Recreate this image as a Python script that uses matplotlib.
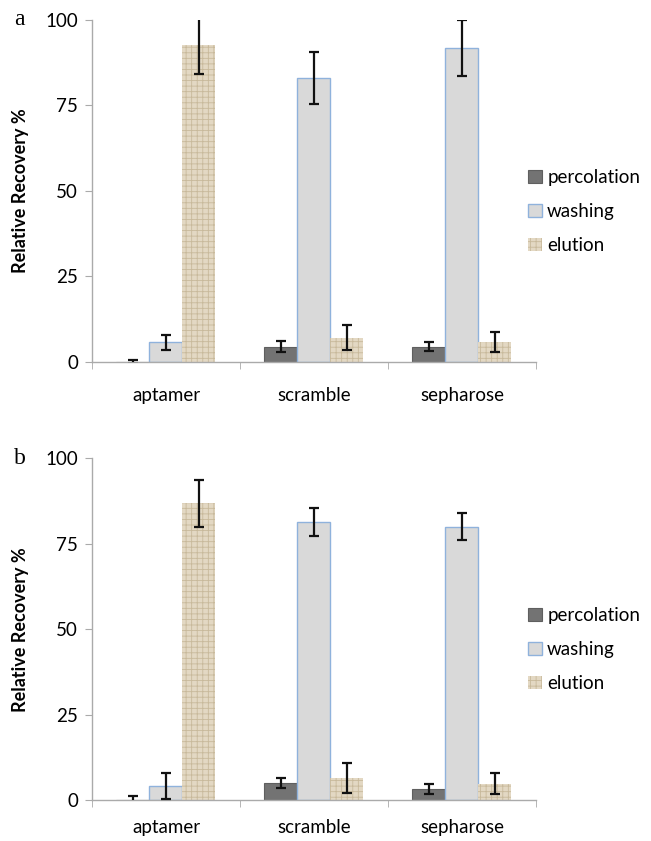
import numpy as np
import matplotlib
matplotlib.use('Agg')
import matplotlib.pyplot as plt

plt.rcParams['font.family'] = ['Lato', 'DejaVu Sans']
plt.rcParams['hatch.linewidth'] = 0.6
plt.rcParams['hatch.color'] = '#bfae8c'

categories = ['aptamer', 'scramble', 'sepharose']
series = ['percolation', 'washing', 'elution']

# panel a
a_perc = [0.0, 4.5, 4.5]
a_perc_err = [0.6, 1.7, 1.2]
a_wash = [5.8, 83.0, 91.7]
a_wash_err = [2.2, 7.7, 8.2]
a_elu = [92.7, 7.1, 5.8]
a_elu_err = [8.5, 3.6, 2.9]

# panel b
b_perc = [0.0, 5.0, 3.2]
b_perc_err = [1.1, 1.5, 1.6]
b_wash = [4.1, 81.5, 80.0]
b_wash_err = [3.8, 4.1, 3.9]
b_elu = [86.8, 6.4, 4.8]
b_elu_err = [6.8, 4.4, 3.0]

yticks = [0, 25, 50, 75, 100]

styles = [
    dict(facecolor='#737373', edgecolor='#5f5f5f', linewidth=0.8),
    dict(facecolor='#d9d9d9', edgecolor='#8fb2dc', linewidth=1.0),
    dict(facecolor='#e3d8c3', edgecolor='#c8b99b', linewidth=0, hatch='+++'),
]


def draw_panel(ax, letter, vals, errs, xpad):
    x = np.arange(len(categories))
    w = 0.223
    for i, (v, e, st, name) in enumerate(zip(vals, errs, styles, series)):
        pos = x + (i - 1) * w
        ax.bar(pos, v, width=w, label=name, zorder=2, **st)
        ax.errorbar(pos, v, yerr=e, fmt='none', ecolor='#111111', elinewidth=1.6,
                    capsize=3.5, capthick=1.6, zorder=3)
    ax.set_xlim(-0.5, 2.5)
    ax.set_ylim(0, 100)
    ax.set_yticks(yticks)
    ax.set_xticks(x)
    ax.set_xticklabels(categories, fontsize=13.5)
    ax.set_xticks([-0.5, 0.5, 1.5, 2.5], minor=True)
    ax.tick_params(axis='x', which='major', length=0, pad=xpad)
    ax.tick_params(axis='x', which='minor', length=5, color='#aaaaaa', direction='out')
    ax.tick_params(axis='y', length=5, color='#aaaaaa', labelsize=13.5, pad=5)
    for s in ['top', 'right']:
        ax.spines[s].set_visible(False)
    for s in ['left', 'bottom']:
        ax.spines[s].set_color('#aaaaaa')
        ax.spines[s].set_linewidth(1.0)
    ax.set_ylabel('Relative Recovery %', fontsize=13, fontweight='bold', labelpad=12)
    ax.text(-0.175, 1.0, letter, transform=ax.transAxes, fontsize=17,
            family='Liberation Serif', ha='left', va='center')
    ax.legend(loc='center left', bbox_to_anchor=(0.945, 0.44), frameon=False,
              fontsize=13.5, handlelength=0.7, handleheight=0.7,
              handletextpad=0.3, labelspacing=0.9)


fig = plt.figure(figsize=(6.51, 8.41), dpi=100)
ax1 = fig.add_axes([0.1413, 0.5696, 0.682, 0.4067])
ax2 = fig.add_axes([0.1413, 0.0488, 0.682, 0.4062])

draw_panel(ax1, 'a', [a_perc, a_wash, a_elu], [a_perc_err, a_wash_err, a_elu_err], 18)
draw_panel(ax2, 'b', [b_perc, b_wash, b_elu], [b_perc_err, b_wash_err, b_elu_err], 14)

plt.savefig('out.png', dpi=100)
